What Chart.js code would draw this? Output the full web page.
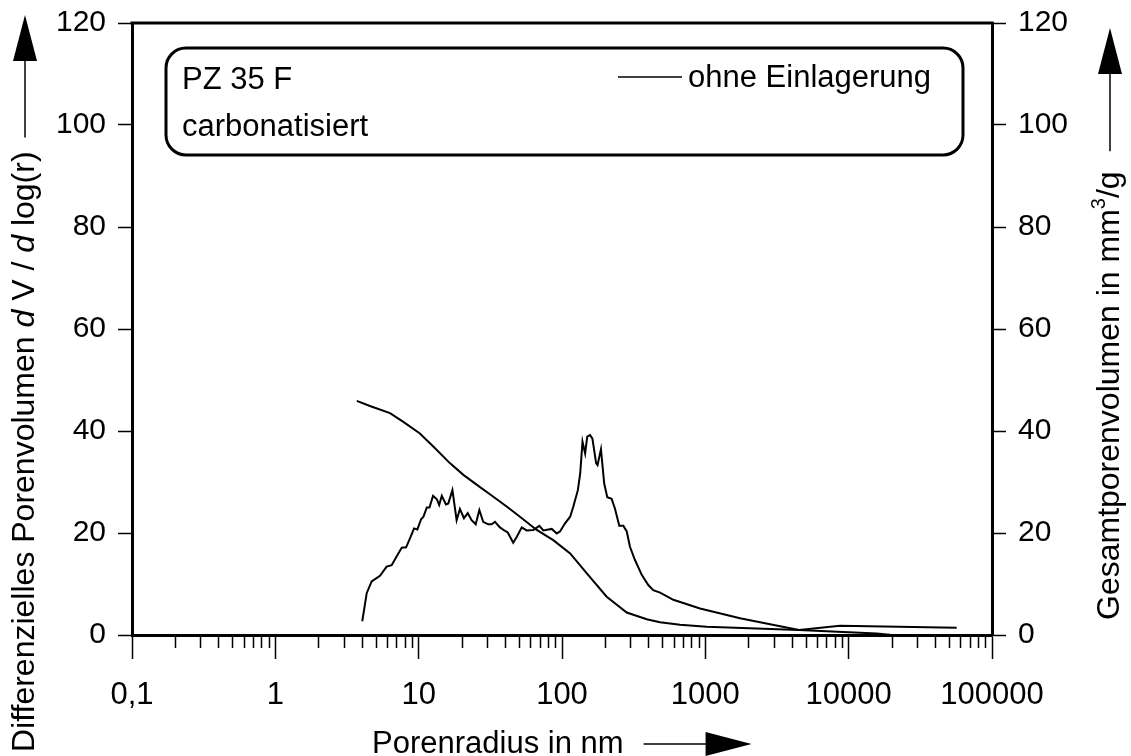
<!DOCTYPE html>
<html>
<head>
<meta charset="utf-8">
<script src="https://cdn.jsdelivr.net/npm/chart.js@4.4.1/dist/chart.umd.min.js"></script>
<style>
html,body{margin:0;padding:0;background:#fff;}
canvas{display:block;}
</style>
</head>
<body>
<canvas id="c" width="1131" height="756"></canvas>
<script>
// ---- data ----
const distRadius = [4.04, 4.34, 4.70, 5.37, 5.98, 6.48, 7.21, 7.62, 8.17, 8.80, 9.28, 9.79, 10.4, 10.8, 11.4, 11.9, 12.6, 13.4, 13.9, 14.5, 15.5, 16.1, 17.2, 18.4, 19.4, 20.7, 22.0, 23.4, 25.0, 26.5, 28.2, 30.6, 32.3, 34.1, 36.9, 39.6, 41.8, 45.7, 48.5, 52.4, 56.7, 63.1, 69.5, 74.1, 84.8, 91.9, 96.8, 105, 114, 120, 129, 134, 139, 145, 150, 157, 163, 173, 177, 187, 197, 207, 222, 234, 251, 268, 283, 298, 323, 360, 400, 433, 483, 598, 918, 1746, 4500, 8710, 56700];
const distValues = [2.7, 8.2, 10.5, 11.6, 13.4, 13.7, 16.0, 17.1, 17.2, 19.3, 20.9, 20.7, 22.7, 23.2, 25.0, 25.0, 27.3, 26.6, 25.5, 27.3, 25.6, 25.8, 28.4, 22.5, 24.7, 22.9, 23.9, 22.5, 21.7, 24.5, 22.2, 21.7, 21.7, 22.2, 21.1, 20.5, 20.1, 18.1, 19.3, 21.1, 20.5, 20.6, 21.4, 20.5, 20.8, 19.9, 20.3, 21.9, 23.2, 25.2, 28.4, 31.7, 37.9, 35.6, 38.9, 39.2, 38.5, 33.7, 33.3, 36.4, 29.7, 27.0, 26.7, 24.8, 21.4, 21.4, 20.3, 17.3, 14.7, 11.8, 9.8, 8.8, 8.3, 6.9, 5.2, 3.3, 1.0, 1.8, 1.4];
const cumRadius = [3.70, 4.57, 6.31, 7.82, 10.2, 12.7, 16.5, 20.5, 26.8, 33.2, 41.1, 50.9, 66.6, 86.9, 114, 149, 205, 283, 390, 483, 665, 1021, 4500, 15700, 20000];
const cumValues = [45.9, 44.9, 43.5, 41.8, 39.5, 36.9, 33.7, 31.4, 29.0, 27.1, 25.2, 23.2, 20.6, 18.6, 16.0, 12.1, 7.5, 4.4, 3.1, 2.5, 2.0, 1.6, 1.0, 0.3, 0];
const xTickValues = [0.1, 1, 10, 100, 1000, 10000, 100000];
const xTickLabels = ['0,1', '1', '10', '100', '1000', '10000', '100000'];
const yTickValues = [0, 20, 40, 60, 80, 100, 120];
const seriesLabel = 'ohne Einlagerung';
const boxLines = ['PZ 35 F', 'carbonatisiert'];
const xTitle = 'Porenradius in nm';

const FONT = "'Liberation Sans', Arial, sans-serif";

function pts(xs, ys){ return xs.map((x,i)=>({x:x, y:ys[i]})); }

function arrow(ctx, x0, len, y){ // horizontal arrow in current frame, starting at x0
  ctx.lineWidth = 1.5;
  ctx.beginPath(); ctx.moveTo(x0, y); ctx.lineTo(x0 + len - 40, y); ctx.stroke();
  ctx.beginPath(); ctx.moveTo(x0 + len - 46, y - 12); ctx.lineTo(x0 + len, y); ctx.lineTo(x0 + len - 46, y + 12); ctx.closePath(); ctx.fill();
}

const decor = {
  id: 'decor',
  afterDraw(chart){
    const ctx = chart.ctx;
    const a = chart.chartArea;
    const xs = chart.scales.x;
    ctx.save();
    ctx.strokeStyle = '#000';
    ctx.fillStyle = '#000';
    // top frame
    ctx.lineWidth = 3;
    ctx.beginPath();
    ctx.moveTo(a.left - 1.5, a.top);
    ctx.lineTo(a.right + 1.5, a.top);
    ctx.stroke();
    // minor ticks on log axis
    ctx.lineWidth = 1.5;
    ctx.beginPath();
    for (let n = -1; n <= 4; n++){
      for (let k = 2; k <= 9; k++){
        const px = Math.round(xs.getPixelForValue(k*Math.pow(10,n))) + 0.5;
        ctx.moveTo(px, a.bottom);
        ctx.lineTo(px, a.bottom + 13);
      }
    }
    ctx.stroke();

    // legend box
    ctx.lineWidth = 3;
    ctx.beginPath();
    ctx.roundRect(166, 48, 797, 107, 20);
    ctx.stroke();
    ctx.font = '31px ' + FONT;
    ctx.textBaseline = 'middle';
    ctx.textAlign = 'left';
    ctx.fillText(boxLines[0], 182, 80);
    ctx.fillText(boxLines[1], 182, 127);
    ctx.lineWidth = 1.5;
    ctx.beginPath();
    ctx.moveTo(618, 77); ctx.lineTo(682, 77);
    ctx.stroke();
    ctx.fillText(seriesLabel, 688, 78);

    // x title with arrow
    ctx.font = '31px ' + FONT;
    const tw = ctx.measureText(xTitle).width;
    const tx = 372, ty = 744;
    ctx.fillText(xTitle, tx, ty);
    arrow(ctx, tx + tw + 20, 108, ty);

    // left title (rotated)
    ctx.save();
    ctx.translate(25, 752);
    ctx.rotate(-Math.PI/2);
    const parts = [['Differenzielles Porenvolumen ', false], ['d', true], [' V / ', false], ['d', true], [' log(r)', false]];
    let cx = 0;
    for (const [t, it] of parts){
      ctx.font = (it ? 'italic ' : '') + '32px ' + FONT;
      ctx.fillText(t, cx, 0);
      cx += ctx.measureText(t).width;
    }
    arrow(ctx, cx + 14, 737 - cx - 14, 0);
    ctx.restore();

    // right title (rotated)
    ctx.save();
    ctx.translate(1110, 620);
    ctx.rotate(-Math.PI/2);
    ctx.font = '32px ' + FONT;
    let rx = 0;
    const r1 = 'Gesamtporenvolumen in mm';
    ctx.fillText(r1, rx, 0); rx += ctx.measureText(r1).width;
    ctx.font = '20px ' + FONT;
    ctx.fillText('3', rx, -11); rx += ctx.measureText('3').width;
    ctx.font = '32px ' + FONT;
    ctx.fillText('/g', rx, 0); rx += ctx.measureText('/g').width;
    arrow(ctx, rx + 20, 592 - rx - 20, 0);
    ctx.restore();

    ctx.restore();
  }
};

const yScale = (pos, w) => ({
  type: 'linear', position: pos, min: 0, max: 120,
  afterBuildTicks: s => { s.ticks = yTickValues.map(v => ({value: v})); },
  afterFit: s => { s.width = w; s.paddingTop = 0; s.paddingBottom = 0; },
  grid: { drawOnChartArea: false, drawTicks: true, tickLength: 14, tickWidth: 1.5, tickColor: '#000' },
  border: { display: true, width: 3, color: '#000' },
  ticks: { color: '#000', font: { family: FONT, size: 30 }, padding: 12 }
});

new Chart(document.getElementById('c'), {
  type: 'line',
  data: {
    datasets: [
      { label: seriesLabel, data: pts(distRadius, distValues), yAxisID: 'y', borderColor: '#000', borderWidth: 2, pointRadius: 0, tension: 0, fill: false },
      { label: seriesLabel, data: pts(cumRadius, cumValues), yAxisID: 'y2', borderColor: '#000', borderWidth: 2, pointRadius: 0, tension: 0, fill: false }
    ]
  },
  options: {
    responsive: false,
    animation: false,
    devicePixelRatio: 1,
    layout: { padding: { top: 23, left: 0, right: 0, bottom: 0 } },
    plugins: { legend: { display: false }, tooltip: { enabled: false }, title: { display: false } },
    scales: {
      x: {
        type: 'logarithmic', position: 'bottom', min: 0.1, max: 100000,
        afterBuildTicks: s => { s.ticks = xTickValues.map(v => ({value: v, major: true})); },
        afterFit: s => { s.height = 121; s.paddingLeft = 0; s.paddingRight = 0; },
        grid: { drawOnChartArea: false, drawTicks: true, tickLength: 24, tickWidth: 1.5, tickColor: '#000' },
        border: { display: true, width: 3, color: '#000' },
        ticks: { color: '#000', font: { family: FONT, size: 31 }, padding: 18, maxRotation: 0, autoSkip: false,
          callback: (v) => { const i = xTickValues.indexOf(v); return i >= 0 ? xTickLabels[i] : ''; } }
      },
      y: yScale('left', 132),
      y2: yScale('right', 139)
    }
  },
  plugins: [decor]
});
</script>
</body>
</html>
